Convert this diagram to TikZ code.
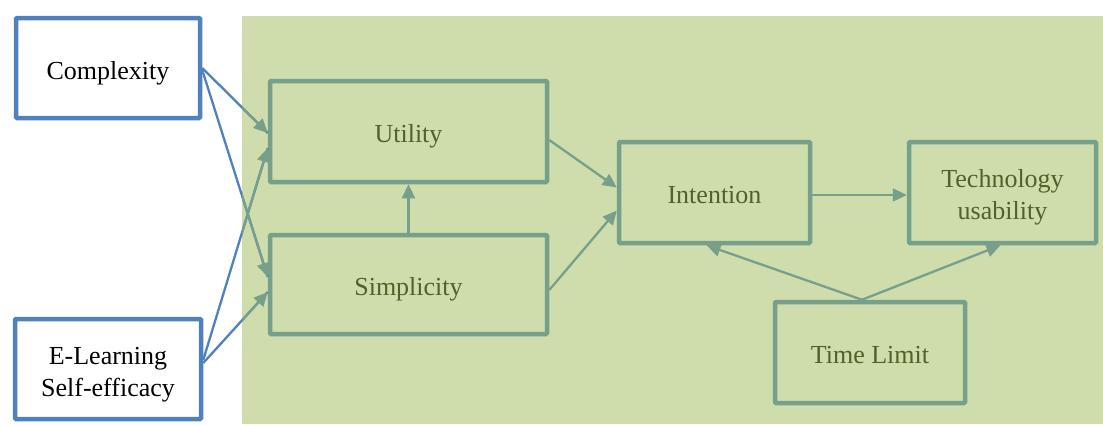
\documentclass[tikz,border=0pt]{standalone}
\usepackage{fontspec}
\setmainfont{Liberation Serif}
\usetikzlibrary{calc,arrows.meta}
\definecolor{bgreen}{HTML}{CFDDAD}
\definecolor{bdr}{HTML}{77A08B}
\definecolor{txt}{HTML}{4F6228}
\definecolor{bblue}{HTML}{4F81BD}
\newcommand{\lowtxt}[1]{\raisebox{-5pt}[\height][\depth]{\begin{tabular}{@{}c@{}}#1\end{tabular}}}
\begin{document}
\begin{tikzpicture}[x=1pt,y=-1pt,
  outbox/.style={draw=bblue,line width=4.5pt,fill=white,rounded corners=1pt,align=center,
    font=\fontsize{26}{32}\selectfont,text=black,inner sep=0pt},
  inbox/.style={draw=bdr,line width=4.5pt,fill=bgreen,rounded corners=1pt,align=center,
    font=\fontsize{26}{32}\selectfont,text=txt,inner sep=0pt},
  garrow/.style={draw=bdr,line width=2.3pt,-{Triangle[length=14pt,width=13pt]}},
  bline/.style={draw=bblue,line width=2.3pt}]
\useasboundingbox (0,0) rectangle (1103,424);
\fill[bgreen] (242,16) rectangle (1103,424);
\node[outbox,minimum width=184pt,minimum height=100pt] (cx) at (108,68) {\lowtxt{Complexity}};
\node[outbox,minimum width=186pt,minimum height=100pt] (el) at (108,369) {\lowtxt{E-Learning\\Self-efficacy}};
\node[inbox,minimum width=277pt,minimum height=101pt] (ut) at (408.5,131.5) {\lowtxt{Utility}};
\node[inbox,minimum width=277pt,minimum height=99pt] (si) at (408.5,284.5) {\lowtxt{Simplicity}};
\node[inbox,minimum width=191pt,minimum height=101pt] (in) at (714.5,192.5) {\lowtxt{Intention}};
\node[inbox,minimum width=187pt,minimum height=101pt] (te) at (1002.5,192.5) {\lowtxt{Technology\\usability}};
\node[inbox,minimum width=190pt,minimum height=101pt] (tl) at (870,352.5) {\lowtxt{Time Limit}};
% blue parts of the lines from the outer boxes
\draw[bline] ($(cx.east)+(0,0)$) -- ($(ut.west)+(0,1.5)$);
\draw[bline] ($(cx.east)+(0,2)$) -- ($(si.west)+(0,-7.5)$);
\draw[bline] ($(el.east)+(0,-9)$) -- ($(ut.west)+(0,16.5)$);
\draw[bline] ($(el.east)+(0,-6)$) -- ($(si.west)+(0,7.5)$);
\begin{scope}
\clip (242,16) rectangle (1103,424);
\draw[garrow] ($(cx.east)+(0,0)$) -- ($(ut.west)+(0,1.5)$);
\draw[garrow] ($(cx.east)+(0,2)$) -- ($(si.west)+(0,-7.5)$);
\draw[garrow] ($(el.east)+(0,-9)$) -- ($(ut.west)+(0,16.5)$);
\draw[garrow] ($(el.east)+(0,-6)$) -- ($(si.west)+(0,7.5)$);
\end{scope}
\draw[garrow] (si.north) -- (ut.south);
\draw[garrow] ($(ut.east)+(0,8.5)$) -- ($(in.west)+(0,-5)$);
\draw[garrow] ($(si.east)+(0,5.5)$) -- ($(in.west)+(0,18)$);
\draw[garrow] ($(in.east)+(0,2.5)$) -- ($(te.west)+(0,2.5)$);
\coordinate (tltop) at ($(tl.north)+(-8,0)$);
\draw[garrow] (tltop) -- ($(in.south)+(-8,0)$);
\draw[garrow] (tltop) -- ($(te.south)+(-2,0)$);
\end{tikzpicture}
\end{document}
